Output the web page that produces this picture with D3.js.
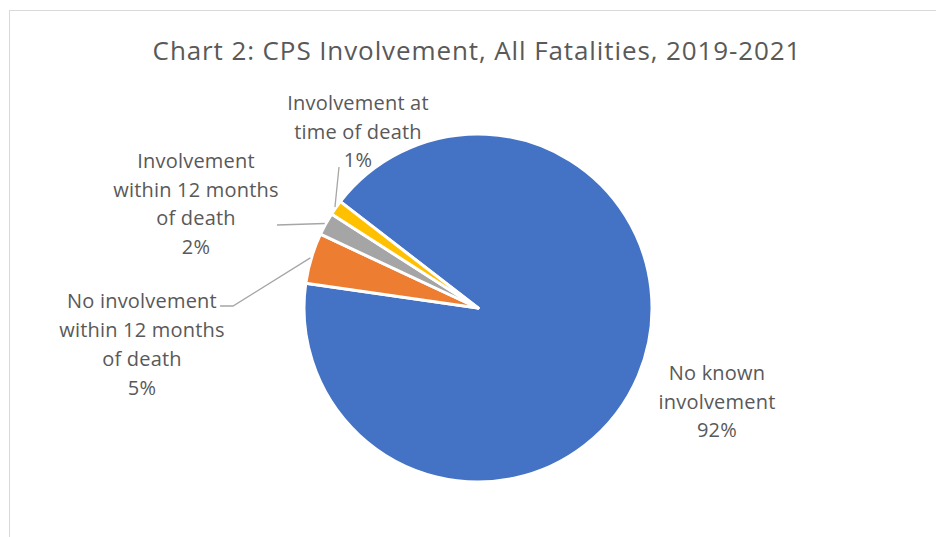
<!DOCTYPE html>
<html>
<head>
<meta charset="utf-8">
<script src="https://cdn.jsdelivr.net/npm/d3@7"></script>
<style>
  body { margin: 0; background: #fff; }
  svg { display: block; font-family: 'Open Sans', sans-serif; }
</style>
</head>
<body>
<div id="chart"></div>
<script>
const categories = [
  'No known involvement',
  'No involvement within 12 months of death',
  'Involvement within 12 months of death',
  'Involvement at time of death',
]
const shares = [91.8, 4.7, 2.1, 1.4]
const labelLines = [
  ['No known', 'involvement'],
  ['No involvement', 'within 12 months', 'of death'],
  ['Involvement', 'within 12 months', 'of death'],
  ['Involvement at', 'time of death'],
]
const colors = ['#4472C4', '#ED7D31', '#A5A5A5', '#FFC000']

const width = 936
const height = 537
const cx = 478
const cy = 308
const radius = 174
const firstSliceAngle = 307.7 // degrees, clockwise from 12 o'clock

// label block centres relative to pie centre, and leader line end points
const labelLayout = [
  { dx: 239, dy: 93.5, leader: null },
  { dx: -336, dy: 36.5, leader: [[-245, -2], [-258, -2]] },
  { dx: -282, dy: -104, leader: [[-201, -83]] },
  { dx: -120, dy: -176.5, leader: [[-139, -141]] },
]
const lineHeight = 28.8

const svg = d3.select('#chart').append('svg').attr('width', width).attr('height', height)

svg.append('rect')
  .attr('x', 9.5).attr('y', 10.5)
  .attr('width', width).attr('height', height)
  .attr('fill', '#fff').attr('stroke', '#d9d9d9')

svg.append('text')
  .attr('x', 477).attr('y', 60)
  .attr('text-anchor', 'middle')
  .attr('fill', '#595959')
  .style('font-size', '26px')
  .style('letter-spacing', '0.9px')
  .text('Chart 2: CPS Involvement, All Fatalities, 2019-2021')

const data = categories.map((c, i) => ({
  name: c, value: shares[i], color: colors[i], lines: labelLines[i], layout: labelLayout[i],
}))

const start = firstSliceAngle * Math.PI / 180
const pie = d3.pie().sort(null).value((d) => d.value).startAngle(start).endAngle(start + 2 * Math.PI)
const arcs = pie(data)
const arc = d3.arc().innerRadius(0).outerRadius(radius)

const g = svg.append('g').attr('transform', `translate(${cx},${cy})`)

g.selectAll('path.slice')
  .data(arcs)
  .join('path')
  .attr('class', 'slice')
  .attr('d', arc)
  .attr('fill', (d) => d.data.color)
  .attr('stroke', '#fff')
  .attr('stroke-width', 3)
  .attr('stroke-linejoin', 'round')

// leader lines start at the middle of the slice's outer edge
function edgePoint(d, r) {
  const a = (d.startAngle + d.endAngle) / 2
  return [r * Math.sin(a), -r * Math.cos(a)]
}

g.selectAll('path.leader')
  .data(arcs.filter((d) => d.data.layout.leader))
  .join('path')
  .attr('class', 'leader')
  .attr('d', (d) => d3.line()([edgePoint(d, radius + 1), ...d.data.layout.leader]))
  .attr('fill', 'none')
  .attr('stroke', '#a6a6a6')
  .attr('stroke-width', 1.3)

const fmt = d3.format('.0%')
arcs.forEach((d) => {
  const lay = d.data.layout
  const lines = [...d.data.lines, fmt(d.data.value / 100)]
  const top = lay.dy - ((lines.length - 1) * lineHeight) / 2
  const t = g.append('text')
    .attr('text-anchor', 'middle')
    .attr('fill', '#595959')
    .style('font-size', '20px')
    .style('letter-spacing', '0.2px')
  lines.forEach((s, i) => {
    t.append('tspan')
      .attr('x', lay.dx)
      .attr('y', top + i * lineHeight)
      .attr('dy', '0.35em')
      .text(s)
  })
})
</script>
</body>
</html>
